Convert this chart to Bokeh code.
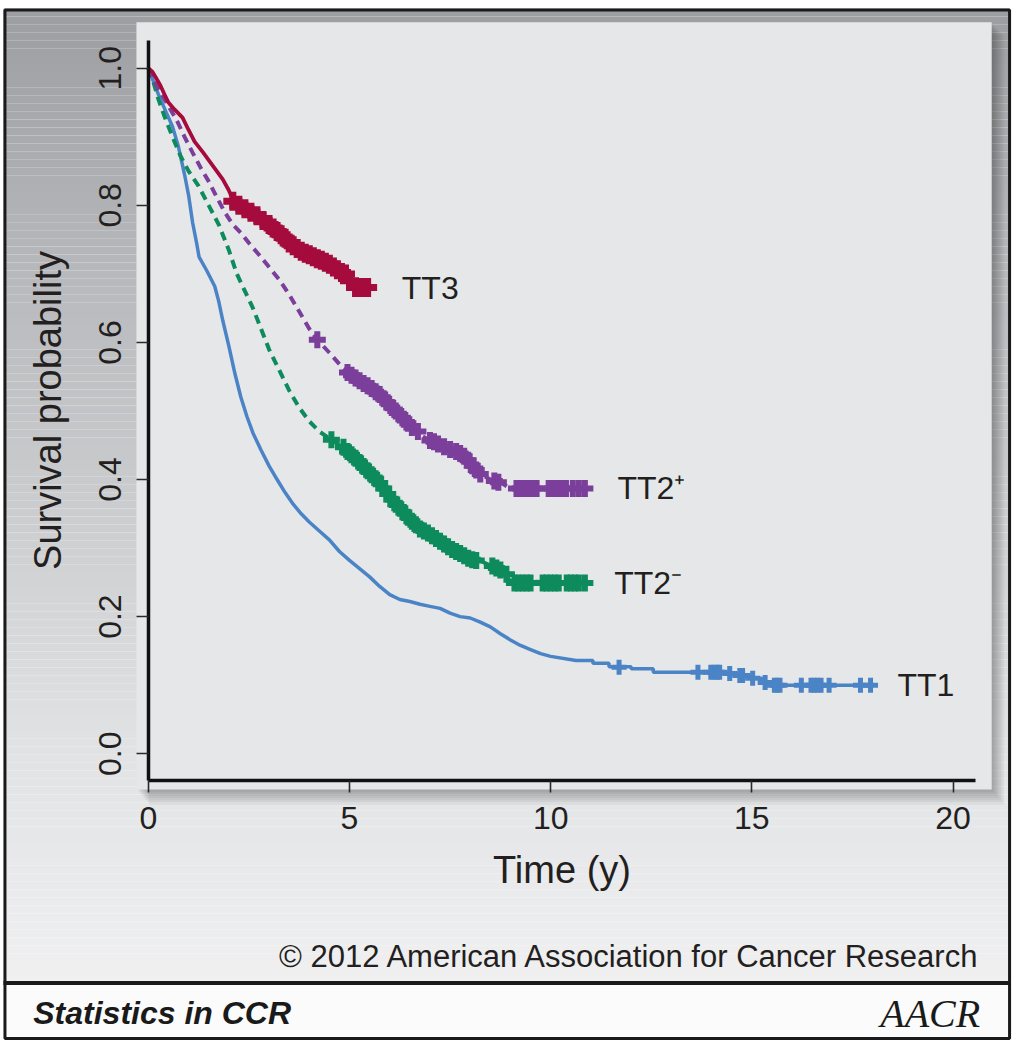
from bokeh.plotting import figure
from bokeh.models import Range1d, LinearAxis, FixedTicker, Label, PrintfTickFormatter
from bokeh.core.properties import value
from bokeh.embed import file_html
from bokeh.resources import INLINE

# ---------------- data ----------------
x_ticks = [0, 5, 10, 15, 20]
y_ticks = [0.0, 0.2, 0.4, 0.6, 0.8, 1.0]

groups = ["TT3", "TT2\u207a", "TT2\u207b", "TT1"]

tt3_t = [0.00, 0.10, 0.20, 0.30, 0.40, 0.50, 0.65, 0.85, 1.00, 1.15, 1.35, 1.50, 1.70, 1.85, 2.00,
         2.10, 2.25, 2.50, 2.75, 3.00, 3.25, 3.50, 3.75, 4.00, 4.30, 4.60, 4.85, 5.00, 5.10, 5.57]
tt3_s = [1.000, 0.995, 0.985, 0.975, 0.962, 0.950, 0.940, 0.928, 0.910, 0.893, 0.878, 0.866, 0.850, 0.838, 0.822,
         0.808, 0.800, 0.792, 0.782, 0.772, 0.758, 0.745, 0.735, 0.728, 0.720, 0.710, 0.700, 0.690, 0.680, 0.680]
tt3_cens_t = [2.10, 2.25, 2.40, 2.55, 2.70, 2.85, 3.00, 3.10, 3.20, 3.30, 3.40, 3.50, 3.60, 3.70, 3.80, 3.90,
              4.00, 4.10, 4.20, 4.30, 4.40, 4.50, 4.60, 4.70, 4.80, 4.90, 5.00, 5.15, 5.25, 5.35, 5.45]
tt3_cens_s = [0.806, 0.800, 0.795, 0.790, 0.785, 0.778, 0.772, 0.767, 0.762, 0.757, 0.752, 0.745, 0.741, 0.737,
              0.733, 0.730, 0.728, 0.725, 0.722, 0.720, 0.717, 0.714, 0.710, 0.706, 0.702, 0.700, 0.690, 0.680,
              0.680, 0.680, 0.680]

tt2p_t = [0.00, 0.15, 0.30, 0.50, 0.70, 0.90, 1.10, 1.30, 1.50, 1.70, 1.90, 2.10, 2.30, 2.50, 2.75, 3.00,
          3.25, 3.50, 3.75, 4.00, 4.20, 4.50, 4.80, 5.00, 5.25, 5.50, 5.75, 6.00, 6.25, 6.50, 6.75, 7.00,
          7.25, 7.50, 7.80, 8.00, 8.25, 8.50, 8.75, 9.00, 10.88]
tt2p_s = [1.000, 0.980, 0.965, 0.945, 0.925, 0.900, 0.877, 0.855, 0.835, 0.812, 0.790, 0.772, 0.760, 0.745,
          0.728, 0.710, 0.692, 0.670, 0.645, 0.620, 0.604, 0.585, 0.565, 0.555, 0.545, 0.535, 0.522, 0.508,
          0.492, 0.478, 0.465, 0.457, 0.450, 0.444, 0.435, 0.420, 0.408, 0.400, 0.396, 0.387, 0.387]
tt2p_cens_t = [4.20, 4.95, 5.05, 5.15, 5.25, 5.35, 5.45, 5.55, 5.65, 5.75, 5.85, 5.95, 6.05, 6.15, 6.25, 6.35,
               6.45, 6.55, 6.70, 7.00, 7.10, 7.20, 7.35, 7.50, 7.65, 7.75, 7.85, 7.95, 8.05, 8.15, 8.25, 8.60,
               8.70, 9.15, 9.25, 9.35, 9.45, 9.55, 9.65, 9.95, 10.05, 10.15, 10.25, 10.38, 10.55, 10.70, 10.85]
tt2p_cens_s = [0.604, 0.556, 0.552, 0.548, 0.544, 0.540, 0.537, 0.533, 0.528, 0.524, 0.518, 0.512, 0.505,
               0.500, 0.494, 0.488, 0.482, 0.476, 0.470, 0.457, 0.455, 0.452, 0.448, 0.444, 0.441, 0.438,
               0.434, 0.428, 0.420, 0.414, 0.408, 0.398, 0.396, 0.387, 0.387, 0.387, 0.387, 0.387, 0.387,
               0.387, 0.387, 0.387, 0.387, 0.387, 0.387, 0.387, 0.387]

tt2m_t = [0.00, 0.10, 0.25, 0.40, 0.60, 0.80, 1.00, 1.25, 1.50, 1.75, 2.00, 2.20, 2.40, 2.60, 2.80, 3.00,
          3.25, 3.50, 3.75, 4.00, 4.25, 4.55, 4.80, 5.00, 5.25, 5.50, 5.75, 6.00, 6.25, 6.50, 6.75, 7.00,
          7.25, 7.50, 7.75, 8.00, 8.30, 8.60, 8.80, 9.00, 10.88]
tt2m_s = [1.000, 0.985, 0.955, 0.930, 0.900, 0.872, 0.850, 0.828, 0.800, 0.772, 0.735, 0.700, 0.675, 0.650,
          0.620, 0.590, 0.560, 0.530, 0.505, 0.485, 0.470, 0.458, 0.448, 0.438, 0.425, 0.410, 0.395, 0.375,
          0.358, 0.342, 0.328, 0.320, 0.310, 0.300, 0.292, 0.284, 0.280, 0.272, 0.265, 0.252, 0.249]
tt2m_cens_t = [4.55, 4.85, 4.95, 5.05, 5.15, 5.25, 5.35, 5.45, 5.55, 5.65, 5.75, 5.85, 5.95, 6.05, 6.15, 6.25,
               6.35, 6.45, 6.55, 6.65, 6.75, 6.85, 6.95, 7.05, 7.15, 7.25, 7.35, 7.45, 7.55, 7.65, 7.75, 7.85,
               7.95, 8.05, 8.15, 8.55, 8.65, 8.75, 8.90, 9.10, 9.20, 9.30, 9.40, 9.50, 9.80, 9.90, 10.00,
               10.10, 10.20, 10.40, 10.50, 10.60, 10.70, 10.85]
tt2m_cens_s = [0.458, 0.447, 0.441, 0.436, 0.431, 0.425, 0.419, 0.413, 0.407, 0.401, 0.395, 0.387, 0.379,
               0.371, 0.364, 0.358, 0.352, 0.345, 0.339, 0.334, 0.328, 0.325, 0.322, 0.318, 0.314, 0.310,
               0.306, 0.302, 0.298, 0.295, 0.292, 0.289, 0.285, 0.283, 0.282, 0.274, 0.271, 0.268, 0.262,
               0.249, 0.249, 0.249, 0.249, 0.249, 0.249, 0.249, 0.249, 0.249, 0.249, 0.249, 0.249, 0.249,
               0.249, 0.249]

tt1_t = [0.00, 0.10, 0.25, 0.45, 0.60, 0.75, 0.90, 1.00, 1.10, 1.20, 1.26, 1.45, 1.65, 1.75, 1.85, 2.00,
         2.15, 2.30, 2.45, 2.60, 2.80, 3.00, 3.20, 3.40, 3.60, 3.80, 4.00, 4.25, 4.50, 4.75, 5.00, 5.25,
         5.50, 5.75, 6.00, 6.25, 6.50, 6.75, 7.00, 7.25, 7.50, 7.75, 8.00, 8.25, 8.50, 8.75, 9.00, 9.25,
         9.50, 9.75, 10.00, 10.63, 11.05, 11.05, 11.45, 11.45, 12.00, 12.00, 12.55, 12.55, 14.45, 14.45,
         14.68, 14.68, 14.95, 14.95, 15.25, 15.25, 15.50, 15.50, 17.95]
tt1_s = [1.000, 0.985, 0.962, 0.935, 0.915, 0.885, 0.845, 0.815, 0.775, 0.745, 0.725, 0.705, 0.682, 0.660,
         0.632, 0.595, 0.555, 0.520, 0.492, 0.468, 0.443, 0.420, 0.400, 0.381, 0.364, 0.350, 0.338, 0.325,
         0.312, 0.295, 0.282, 0.270, 0.258, 0.244, 0.232, 0.225, 0.222, 0.218, 0.215, 0.212, 0.205, 0.200,
         0.198, 0.192, 0.185, 0.175, 0.166, 0.158, 0.152, 0.146, 0.142, 0.136, 0.136, 0.132, 0.132, 0.127,
         0.127, 0.124, 0.124, 0.119, 0.119, 0.117, 0.117, 0.114, 0.114, 0.110, 0.110, 0.104, 0.104, 0.100,
         0.100]
tt1_cens_t = [11.70, 13.66, 13.98, 14.06, 14.14, 14.20, 14.45, 14.70, 14.77, 15.02, 15.33, 15.56, 15.63,
              15.70, 16.23, 16.47, 16.55, 16.63, 16.72, 16.92, 17.70, 17.95]
tt1_cens_s = [0.126, 0.119, 0.119, 0.119, 0.119, 0.119, 0.117, 0.114, 0.114, 0.110, 0.104, 0.100, 0.100,
              0.100, 0.100, 0.100, 0.100, 0.100, 0.100, 0.100, 0.100, 0.100]

# ---------------- layout / styles ----------------
W, H = 1018, 1042            # canvas size (fits the window with the 8px page margin)
RW, RH = 1026, 1050          # design space (reference picture pixels)
FONT = "Liberation Sans"
TXT = "#231f20"
RED, PURPLE, GREEN, BLUE = "#a50b3c", "#7b3f9b", "#0d8b5c", "#4a84c6"

# design-space pixel anchors of the survival plot
T0_PX, T_PER_PX = 149.0, 40.55      # x of t=0, pixels per year
S0_PY, S_PER_PY = 759.0, 690.7      # y of s=0, pixels per unit survival

p = figure(width=W, height=H, x_range=Range1d(0, RW), y_range=Range1d(RH, 0),
           output_backend="svg", toolbar_location=None,
           x_axis_location=None, y_axis_location=None, min_border=0,
           outline_line_color=None, background_fill_color="white",
           border_fill_color="white")
p.grid.visible = False

p.extra_x_ranges = {"t": Range1d(-T0_PX / T_PER_PX, (RW - T0_PX) / T_PER_PX)}
p.extra_y_ranges = {"s": Range1d((S0_PY - RH) / S_PER_PY, S0_PY / S_PER_PY)}

# background gradient (top dark grey -> bottom light grey)
stops = [(10, (156, 158, 161)), (300, (186, 187, 190)), (550, (207, 208, 210)),
         (750, (225, 226, 228)), (990, (240, 240, 241))]


def grad(y):
    for (y0, c0), (y1, c1) in zip(stops[:-1], stops[1:]):
        if y0 <= y <= y1:
            f = (y - y0) / (y1 - y0)
            return "#%02x%02x%02x" % tuple(int(round(a + (b - a) * f)) for a, b in zip(c0, c1))
    return "#%02x%02x%02x" % (stops[-1][1] if y > stops[-1][0] else stops[0][1])


step = 8
tops = list(range(8, 990, step))
p.quad(left=3, right=1017, top=tops, bottom=[min(t + step, 990) for t in tops],
       fill_color=[grad(t + step / 2) for t in tops], line_color=None)
# bottom bar
p.quad(left=3, right=1017, top=990, bottom=1046, fill_color="#fbfbfb", line_color=None)

# panel shadow + panel
for i in range(1, 8):
    p.quad(left=137 + 1.8 * i, right=999 + 1.8 * i, top=22 + 1.8 * i, bottom=795 + 2.2 * i,
           fill_color="black", fill_alpha=0.045, line_color=None)
p.quad(left=137, right=999, top=22, bottom=795, fill_color="#e6e7e8", line_color=None)

# frame lines
p.quad(left=4.5, right=1017, top=9.5, bottom=1046, fill_color=None, line_color="#1a1a1a", line_width=3)
p.segment(x0=3, x1=1017, y0=990, y1=990, line_color="#1a1a1a", line_width=4)

# ---------------- survival curves ----------------
kw = dict(x_range_name="t", y_range_name="s")
p.line(tt1_t, tt1_s, line_color=BLUE, line_width=3.5, **kw)
p.line(tt2m_t, tt2m_s, line_color=GREEN, line_width=4, line_dash="9 6", **kw)
p.line(tt2p_t, tt2p_s, line_color=PURPLE, line_width=4, line_dash="9 6", **kw)
p.line(tt3_t, tt3_s, line_color=RED, line_width=3.8, **kw)

for ct, cs, col, sz, lw in [(tt1_cens_t, tt1_cens_s, BLUE, 15, 5), (tt2m_cens_t, tt2m_cens_s, GREEN, 17, 6),
                            (tt2p_cens_t, tt2p_cens_s, PURPLE, 17, 6), (tt3_cens_t, tt3_cens_s, RED, 19, 7)]:
    p.scatter(ct, cs, marker="cross", size=sz, line_color=col, line_width=lw, **kw)

# curve labels
end_t = [tt3_t[-1], tt2p_t[-1], tt2m_t[-1], tt1_t[-1]]
end_s = [tt3_s[-1], tt2p_s[-1], tt2m_s[-1], tt1_s[-1]]
label_gap = [0.73, 0.78, 0.70, 0.67]
p.text(x=[a + g for a, g in zip(end_t, label_gap)], y=end_s, text=groups,
       text_font=value(FONT), text_font_size="32px", text_color=TXT,
       text_align="left", text_baseline="middle", **kw)

# ---------------- axes ----------------
x_axis_at = (S0_PY - 786) / S_PER_PY
y_axis_top = (S0_PY - 40) / S_PER_PY
x_axis_end = (983 - T0_PX) / T_PER_PX

common = dict(axis_line_width=3.5, axis_line_color="#111111",
              major_tick_line_color="#2a2a2a", major_tick_line_width=1.6,
              major_tick_in=0, major_tick_out=12, minor_tick_in=0, minor_tick_out=0,
              major_label_text_font=FONT, major_label_text_font_size="32px",
              major_label_text_color=TXT, axis_label_text_font=FONT,
              axis_label_text_font_size="38px", axis_label_text_font_style="normal",
              axis_label_text_color=TXT)

xa = LinearAxis(x_range_name="t", y_range_name="s", fixed_location=x_axis_at,
                bounds=(0, x_axis_end), ticker=FixedTicker(ticks=x_ticks, minor_ticks=[]),
                axis_label="Time (y)", major_label_standoff=14, axis_label_standoff=17, **common)
p.add_layout(xa, "below")

ya = LinearAxis(x_range_name="t", y_range_name="s", fixed_location=0,
                bounds=(x_axis_at, y_axis_top), ticker=FixedTicker(ticks=y_ticks, minor_ticks=[]),
                formatter=PrintfTickFormatter(format="%.1f"), major_label_orientation="vertical",
                axis_label="Survival probability", major_label_standoff=15, axis_label_standoff=28,
                **common)
p.add_layout(ya, "left")

# ---------------- texts ----------------
p.add_layout(Label(x=988, y=963, text="\u00a9 2012 American Association for Cancer Research",
                   text_font=FONT, text_font_size="31px", text_color=TXT,
                   text_align="right", text_baseline="middle"))
p.add_layout(Label(x=33, y=1020, text="Statistics in CCR", text_font=FONT,
                   text_font_size="32px", text_font_style="bold italic", text_color="#1a1a1a",
                   text_align="left", text_baseline="middle"))
p.add_layout(Label(x=937, y=1021, text="AACR", text_font="Liberation Serif",
                   text_font_size="40px", text_font_style="italic", text_color="#1a1a1a",
                   text_align="center", text_baseline="middle"))

open("out.html", "w").write(file_html(p, INLINE))
